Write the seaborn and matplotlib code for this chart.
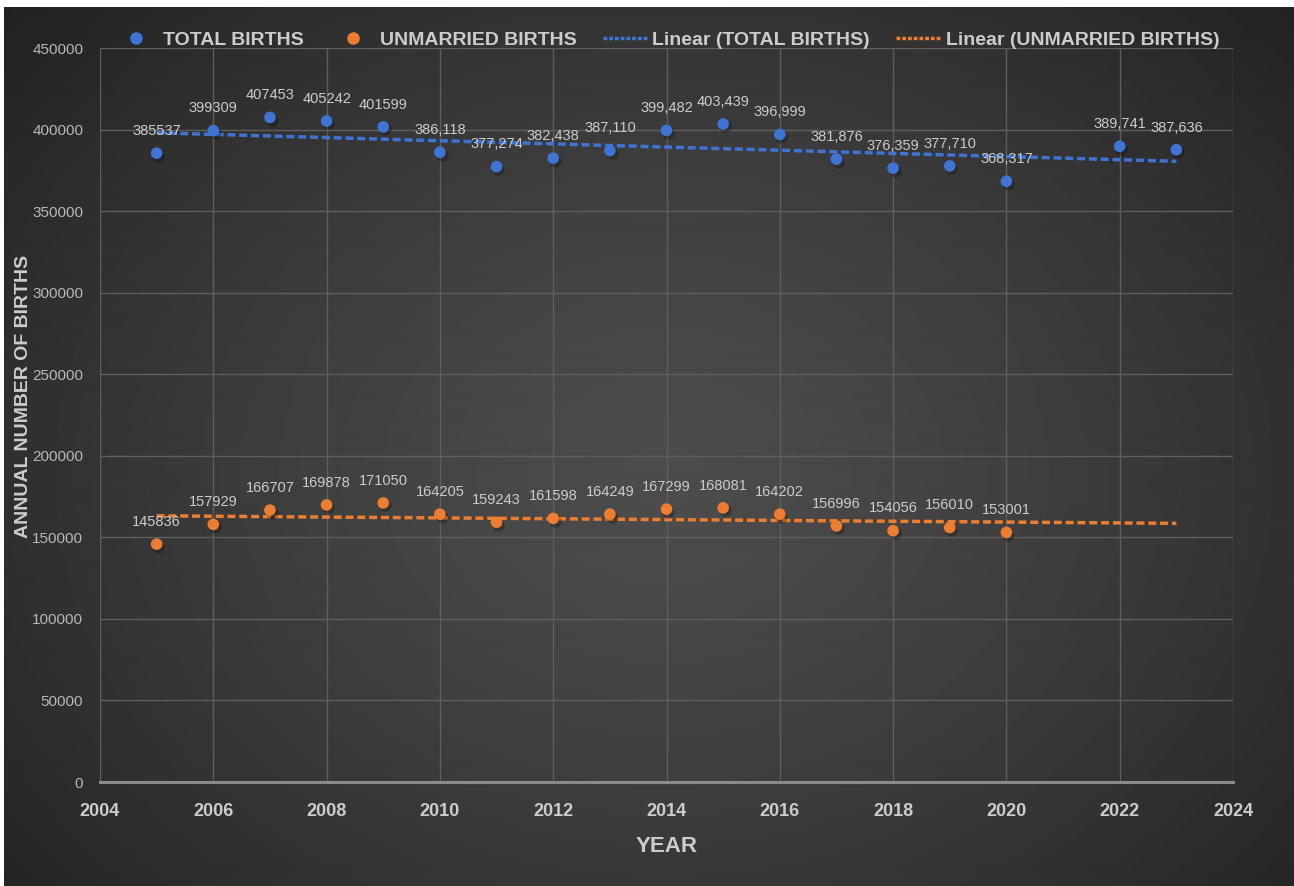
import numpy as np
import pandas as pd
import matplotlib
matplotlib.use("Agg")
import matplotlib.pyplot as plt
import seaborn as sns
from matplotlib.lines import Line2D

# --- data ---
total_years = [2005, 2006, 2007, 2008, 2009, 2010, 2011, 2012, 2013,
               2014, 2015, 2016, 2017, 2018, 2019, 2020, 2022, 2023]
total_births = [385537, 399309, 407453, 405242, 401599, 386118, 377274, 382438, 387110,
                399482, 403439, 396999, 381876, 376359, 377710, 368317, 389741, 387636]
total_labels = ["385537", "399309", "407453", "405242", "401599", "386,118", "377,274",
                "382,438", "387,110", "399,482", "403,439", "396,999", "381,876",
                "376,359", "377,710", "368,317", "389,741", "387,636"]

unmarried_years = [2005, 2006, 2007, 2008, 2009, 2010, 2011, 2012,
                   2013, 2014, 2015, 2016, 2017, 2018, 2019, 2020]
unmarried_births = [145836, 157929, 166707, 169878, 171050, 164205, 159243, 161598,
                    164249, 167299, 168081, 164202, 156996, 154056, 156010, 153001]
unmarried_labels = [str(v) for v in unmarried_births]

trend_span = [2005, 2023]

BLUE = "#3f74d4"
ORANGE = "#ed7d31"
TXT = "#cccccc"
FONT = ["Liberation Sans", "DejaVu Sans"]

sns.set_style("dark")
plt.rcParams["font.family"] = FONT

df = pd.concat([
    pd.DataFrame({"year": total_years, "births": total_births, "series": "TOTAL BIRTHS"}),
    pd.DataFrame({"year": unmarried_years, "births": unmarried_births, "series": "UNMARRIED BIRTHS"}),
])

fig = plt.figure(figsize=(12.94, 8.86), dpi=100)
fig.patch.set_facecolor("white")

# radial gradient background (thin white strip top/left like the source)
bg = fig.add_axes([4 / 1294, 0, 1 - 4 / 1294, 1 - 7 / 886], zorder=-10)
yy, xx = np.mgrid[0:880, 0:1290]
r = np.hypot((xx - 660) / 800.0, (yy - 470) / 640.0)
r = np.clip(r / r.max(), 0, 1)
shade = 0.30 - 0.17 * r ** 1.3
bg.imshow(shade, cmap="gray", vmin=0, vmax=1, aspect="auto", interpolation="bilinear")
bg.set_axis_off()

ax = fig.add_axes([100 / 1294, 1 - 782 / 886, (1233 - 100) / 1294, (782 - 48) / 886])
ax.set_facecolor("none")

# trend lines (least squares, like Excel's linear trendline)
tx = np.linspace(trend_span[0], trend_span[1], 50)
for yrs, vals, col in [(total_years, total_births, BLUE), (unmarried_years, unmarried_births, ORANGE)]:
    k, b = np.polyfit(yrs, vals, 1)
    ax.plot(tx, k * tx + b, color=col, lw=2.5, dashes=(2.3, 1.1), zorder=2)

# soft shadow under markers
ax.scatter(np.array(df["year"]) + 0.03, np.array(df["births"]) - 1500, s=80,
           color="black", alpha=0.25, linewidths=0, zorder=2.5)
sns.scatterplot(data=df, x="year", y="births", hue="series",
                palette={"TOTAL BIRTHS": BLUE, "UNMARRIED BIRTHS": ORANGE},
                s=70, linewidth=0, ax=ax, zorder=3, legend=False)

for yrs, vals, labs in [(total_years, total_births, total_labels),
                        (unmarried_years, unmarried_births, unmarried_labels)]:
    for x, y, t in zip(yrs, vals, labs):
        ax.annotate(t, (x, y), xytext=(0, 16), textcoords="offset points",
                    ha="center", va="center", fontsize=10.5, color=TXT, zorder=4)

ax.set_xlim(2004, 2024)
ax.set_ylim(0, 450000)
ax.set_xticks(range(2004, 2025, 2))
ax.set_yticks(range(0, 450001, 50000))
ax.grid(True, color="#5e5e5e", lw=1)
for s in ["top", "right", "left"]:
    ax.spines[s].set_visible(False)
ax.spines["bottom"].set_color("#8a8a8a")
ax.spines["bottom"].set_linewidth(2.2)
ax.tick_params(axis="x", length=0, pad=15, labelsize=13, labelcolor=TXT)
ax.tick_params(axis="y", length=0, pad=12, labelsize=11, labelcolor="#b8b8b8")
for lab in ax.get_xticklabels():
    lab.set_fontweight("bold")

ax.set_xlabel("YEAR", fontsize=16, fontweight="bold", color=TXT, labelpad=12)
ax.set_ylabel("ANNUAL NUMBER OF BIRTHS", fontsize=14, fontweight="bold", color=TXT)
ax.yaxis.set_label_coords(-0.060, 0.525)

handles = [
    Line2D([], [], ls="", marker="o", ms=8, color=BLUE),
    Line2D([], [], ls="", marker="o", ms=8, color=ORANGE),
    Line2D([], [], color=BLUE, lw=2.5, dashes=(1.1, 0.55)),
    Line2D([], [], color=ORANGE, lw=2.5, dashes=(1.1, 0.55)),
]
names = ["TOTAL BIRTHS", "UNMARRIED BIRTHS", "Linear (TOTAL BIRTHS)", "Linear (UNMARRIED BIRTHS)"]
leg = ax.legend(handles, names, ncol=4, loc="center", bbox_to_anchor=(0.5, 1 + 8 / 734),
                frameon=False, fontsize=14, handlelength=2.3, handletextpad=0.25,
                columnspacing=1.35, borderaxespad=0)
for t in leg.get_texts():
    t.set_color(TXT)
    t.set_fontweight("bold")

fig.savefig("out.png", dpi=100)
